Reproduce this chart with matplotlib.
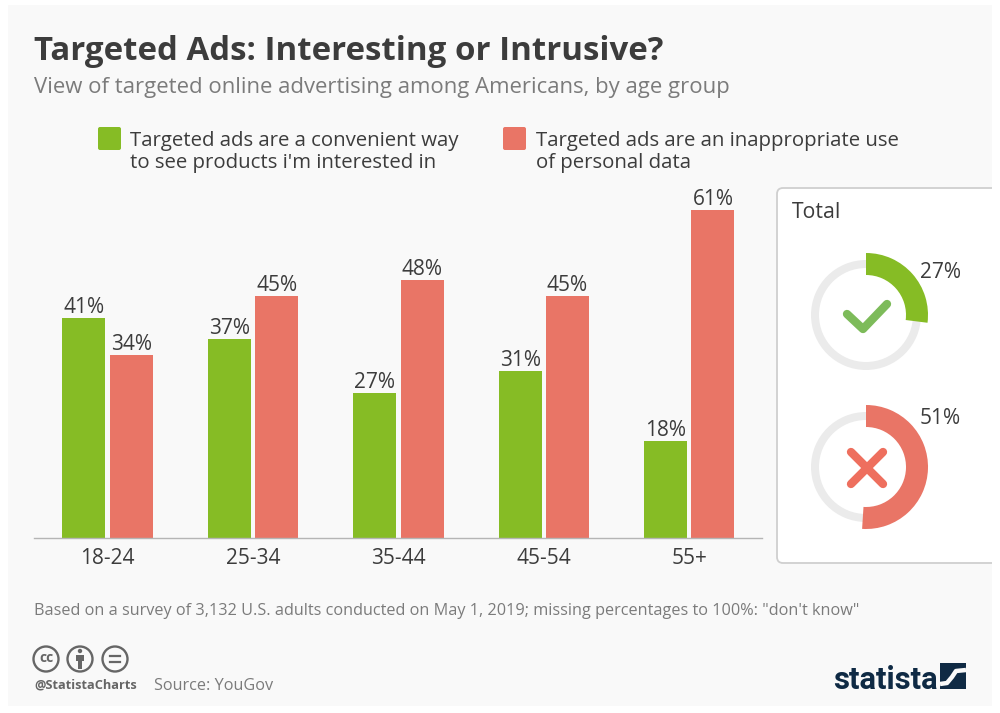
import numpy as np
from matplotlib import pyplot as plt
from matplotlib.patches import FancyBboxPatch, Rectangle, Wedge, Circle

age_groups = ["18-24", "25-34", "35-44", "45-54", "55+"]
convenient = [41, 37, 27, 31, 18]
inappropriate = [34, 45, 48, 45, 61]
total_convenient = 27
total_inappropriate = 51

GREEN = "#86bc25"
RED = "#e97566"
TEXT = "#3c3c3c"
GREY = "#7b7b7b"
ICON = "#666666"
NAVY = "#0f2a44"
PAPER = "#f9f9f9"

plt.rcParams["font.family"] = ["Open Sans", "DejaVu Sans"]

fig = plt.figure(figsize=(10, 7.13), dpi=100, facecolor="white")

# overlay in pixel coordinates for everything around the plot
bg = fig.add_axes([0, 0, 1, 1])
bg.set_xlim(0, 1000)
bg.set_ylim(713, 0)
bg.axis("off")
paper = Rectangle((8, 5), 984, 701, facecolor=PAPER, edgecolor="none")
bg.add_patch(paper)

bg.text(34, 52, "Targeted Ads: Interesting or Intrusive?", fontsize=23.8,
        fontweight="bold", color=TEXT, va="center", ha="left")
bg.text(34, 87, "View of targeted online advertising among Americans, by age group",
        fontsize=15.9, color=GREY, va="center", ha="left")

# legend
bg.add_patch(FancyBboxPatch((98, 127), 23, 23, boxstyle="round,pad=0,rounding_size=2",
                            facecolor=GREEN, edgecolor="none"))
bg.add_patch(FancyBboxPatch((503, 127), 23, 23, boxstyle="round,pad=0,rounding_size=2",
                            facecolor=RED, edgecolor="none"))
bg.text(130, 152, "Targeted ads are a convenient way\nto see products i'm interested in",
        fontsize=14.7, color=TEXT, va="center", ha="left", linespacing=1.19)
bg.text(536, 152, "Targeted ads are an inappropriate use\nof personal data",
        fontsize=14.7, color=TEXT, va="center", ha="left", linespacing=1.19)

# bars
ax = fig.add_axes([34 / 1000, (713 - 538) / 713, 728 / 1000, 340 / 713])
ax.patch.set_alpha(0)
x = np.arange(len(age_groups))
offset = 0.163
width = 0.2955
bars_a = ax.bar(x - offset, convenient, width, color=GREEN)
bars_b = ax.bar(x + offset, inappropriate, width, color=RED)
ax.set_xlim(-0.505, 4.5)
ax.set_ylim(0, 340 / 5.377)
for bars, values in ((bars_a, convenient), (bars_b, inappropriate)):
    for bar, value in zip(bars, values):
        ax.annotate(f"{value}%", (bar.get_x() + bar.get_width() / 2, value),
                    xytext=(0, 0), textcoords="offset points", ha="center", va="bottom",
                    fontsize=15, color=TEXT, annotation_clip=False)
ax.set_xticks(x, age_groups, fontsize=15, color=TEXT)
ax.tick_params(axis="x", length=0, pad=7)
ax.set_yticks([])
for side in ("top", "left", "right"):
    ax.spines[side].set_visible(False)
ax.spines["bottom"].set_color("#b5b5b5")
ax.spines["bottom"].set_linewidth(1)

# total panel, runs off the right edge of the paper
panel = FancyBboxPatch((777, 188), 260, 375, boxstyle="round,pad=0,rounding_size=6",
                       facecolor="white", edgecolor="#cfcfcf", linewidth=1.3)
bg.add_patch(panel)
panel.set_clip_path(paper)
bg.text(792, 212, "Total", fontsize=15.3, fontweight="medium", color=TEXT, va="center", ha="left")


def donut(cy, value, color, label_y):
    bg.add_patch(Wedge((866, cy), 55, 0, 360, width=8, facecolor="#ebebeb", edgecolor="none"))
    # y axis is inverted here, so wedge angles run clockwise from the top
    bg.add_patch(Wedge((866, cy), 62, -90, -90 + value * 3.6, width=22,
                       facecolor=color, edgecolor="none"))
    bg.text(920, label_y, f"{value}%", fontsize=15, color=TEXT, va="center", ha="left")


donut(315, total_convenient, GREEN, 272)
donut(467, total_inappropriate, RED, 418)

bg.plot([847, 863, 887], [314, 329, 304], color="#7dbb5a", linewidth=6,
        solid_capstyle="round", solid_joinstyle="round")
bg.plot([851, 883], [452, 484], color="#ee6f5e", linewidth=6, solid_capstyle="round")
bg.plot([883, 851], [452, 484], color="#ee6f5e", linewidth=6, solid_capstyle="round")

# footer
bg.text(34, 611, "Based on a survey of 3,132 U.S. adults conducted on May 1, 2019; missing percentages to 100%: \"don't know\"",
        fontsize=11.7, color=GREY, va="center", ha="left")
for cx in (46, 80, 115):
    bg.add_patch(Circle((cx, 659), 12.5, facecolor="none", edgecolor=ICON, linewidth=1.7))
bg.text(46, 658, "cc", fontsize=10, fontweight="bold", color=ICON, ha="center", va="center")
bg.add_patch(Circle((80, 651), 2.2, facecolor=ICON, edgecolor="none"))
bg.add_patch(Rectangle((76, 655), 8, 6, facecolor=ICON, edgecolor="none"))
bg.add_patch(Rectangle((78, 660), 4, 9, facecolor=ICON, edgecolor="none"))
bg.plot([110, 120], [656, 656], color=ICON, linewidth=1.6)
bg.plot([110, 120], [662, 662], color=ICON, linewidth=1.6)
bg.text(34, 685, "@StatistaCharts", fontsize=9.2, fontweight="bold", color=ICON, va="center", ha="left")
bg.text(154, 686, "Source: YouGov", fontsize=11.7, color=GREY, va="center", ha="left")

# logo
bg.text(833, 689, "statista", fontsize=22.3, fontweight="bold", color=NAVY,
        va="baseline", ha="left", family="Roboto")
bg.add_patch(Rectangle((940, 663), 26, 26, facecolor=NAVY, edgecolor="none"))
bg.plot([940, 947, 952, 956, 966], [684, 683, 677, 671, 670], color=PAPER, linewidth=3.2,
        solid_capstyle="butt", solid_joinstyle="round")

fig.savefig("out.png", dpi=100, facecolor=fig.get_facecolor())
